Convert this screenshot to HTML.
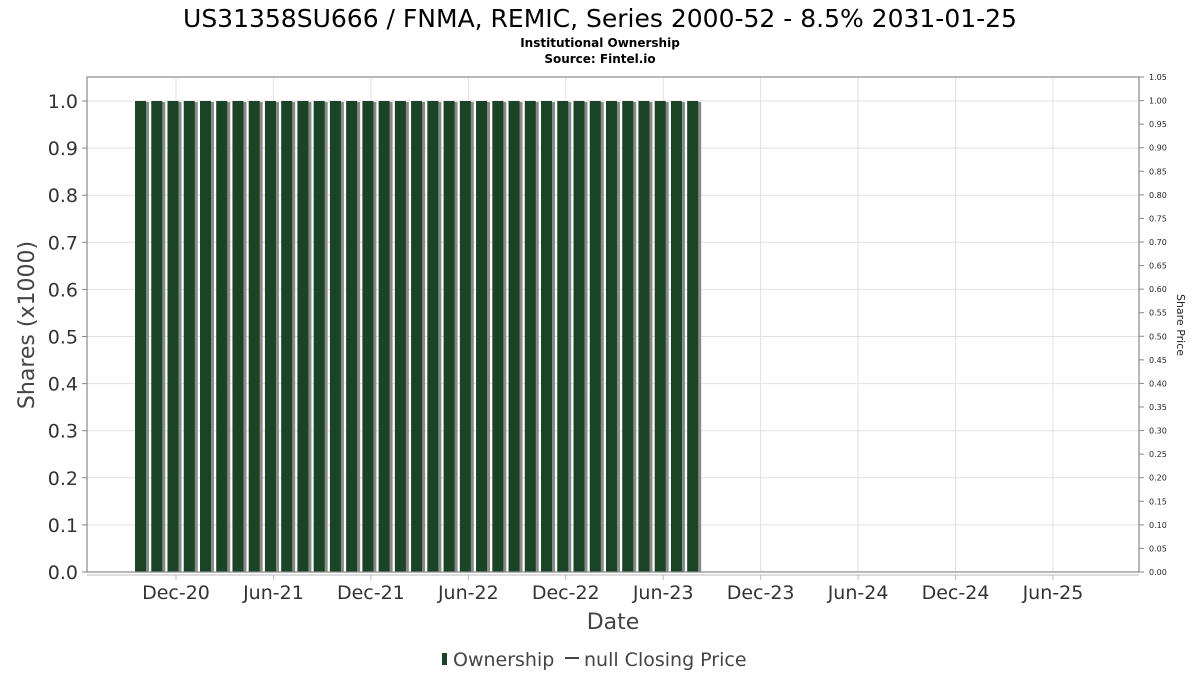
<!DOCTYPE html>
<html><head><meta charset="utf-8"><style>
body{margin:0;background:#fff;font-family:"DejaVu Sans","Liberation Sans",sans-serif;}
svg text{font-family:"DejaVu Sans","Liberation Sans",sans-serif;}
</style></head><body>
<svg id="chart" width="1200" height="675" xmlns="http://www.w3.org/2000/svg">
<text x="600" y="27" text-anchor="middle" font-size="25" fill="#000">US31358SU666 / FNMA, REMIC, Series 2000-52 - 8.5% 2031-01-25</text>
<text x="600" y="47" text-anchor="middle" font-size="12" font-weight="bold" fill="#000">Institutional Ownership</text>
<text x="600" y="63" text-anchor="middle" font-size="12" font-weight="bold" fill="#000">Source: Fintel.io</text>
<g id="grid"></g>
<g id="bars"></g>
<rect x="87" y="77" width="1052" height="495" fill="none" stroke="#888" stroke-width="1.2"/>
<line x1="87" y1="575" x2="1139" y2="575" stroke="#bbb"/>
<g id="yl"></g>
<g id="yr"></g>
<g id="xl"></g>
<text transform="translate(34,325) rotate(-90)" text-anchor="middle" font-size="22" fill="#444">Shares (x1000)</text>
<text transform="translate(1177,325) rotate(90)" text-anchor="middle" font-size="11" fill="#222">Share Price</text>
<text x="613" y="629" text-anchor="middle" font-size="22" fill="#444">Date</text>
<g>
<rect x="442" y="653" width="5" height="12" fill="#1a4424"/>
<text x="453" y="666" font-size="19" fill="#444">Ownership</text>
<line x1="565" y1="658" x2="579" y2="658" stroke="#444" stroke-width="2"/>
<text x="584" y="666" font-size="19" fill="#444">null Closing Price</text>
</g>
</svg>
<script>
const barMonths=[-2,-1,0,1,2,3,4,5,6,7,8,9,10,11,12,13,14,15,16,17,18,19,20,21,22,23,24,25,26,27,28,29,30,31,32];
const barValues=[1,1,1,1,1,1,1,1,1,1,1,1,1,1,1,1,1,1,1,1,1,1,1,1,1,1,1,1,1,1,1,1,1,1,1];
const xTickLabels=["Dec-20","Jun-21","Dec-21","Jun-22","Dec-22","Jun-23","Dec-23","Jun-24","Dec-24","Jun-25"];
const xTickMonths=[0,6,12,18,24,30,36,42,48,54];
const leftTicks=[0,0.1,0.2,0.3,0.4,0.5,0.6,0.7,0.8,0.9,1.0];
const rightTicks=[0,0.05,0.1,0.15,0.2,0.25,0.3,0.35,0.4,0.45,0.5,0.55,0.6,0.65,0.7,0.75,0.8,0.85,0.9,0.95,1.0,1.05];
const NS="http://www.w3.org/2000/svg";
const x=m=>176+m*16.24;
const y=v=>572-v*471;
const yr=v=>572-v*(495/1.05);
function mk(p,t,a){const e=document.createElementNS(NS,t);for(const k in a)e.setAttribute(k,a[k]);document.getElementById(p).appendChild(e);return e;}
leftTicks.forEach(v=>{
 const g=mk('grid','line',{x1:87,x2:1139,y1:y(v),y2:y(v),stroke:'#e2e2e2'});
 
 
 const tk=mk('yl','line',{x1:82,x2:87,y1:y(v),y2:y(v),stroke:'#888'});
 
 
 const t=mk('yl','text',{x:78,y:y(v)+7,'text-anchor':'end','font-size':19,fill:'#333'});
 t.textContent=v.toFixed(1);
 
 
});
rightTicks.forEach(v=>{
 const tk=mk('yr','line',{x1:1139,x2:1144,y1:yr(v),y2:yr(v),stroke:'#888'});
 
 
 const t=mk('yr','text',{x:1149,y:yr(v)+3,'font-size':8,fill:'#222'});
 t.textContent=v.toFixed(2);
 
 
});
xTickMonths.forEach((m,i)=>{
 const g=mk('grid','line',{x1:x(m),x2:x(m),y1:77,y2:572,stroke:'#e2e2e2'});
 
 
 const tk=mk('xl','line',{x1:x(m),x2:x(m),y1:575,y2:580,stroke:'#bbb'});
 
 
 const t=mk('xl','text',{x:x(m),y:599,'text-anchor':'middle','font-size':19,fill:'#333'});
 t.textContent=xTickLabels[i];
 
 
});
barMonths.forEach((m,i)=>{
 const cx=x(m)-3, top=y(barValues[i]);
 const s=mk('bars','rect',{x:cx-5.5+3,y:top+1,width:11,height:572-top-1,fill:'#8a8a8a'});
 
 
 const b=mk('bars','rect',{x:cx-5.5,y:top,width:11,height:572-top,fill:'#1a4424'});
 
 
});
</script>
</body></html>
